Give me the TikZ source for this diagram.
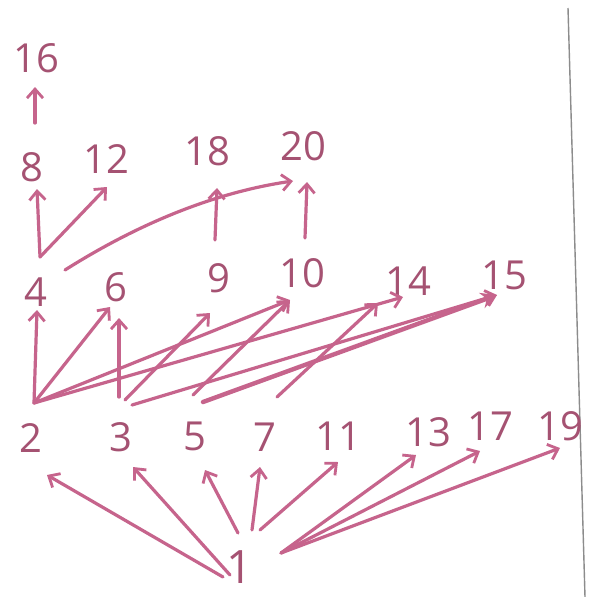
\documentclass[tikz,border=0pt]{standalone}
\usepackage{fontspec}
\setmainfont{Open Sans}
\usetikzlibrary{arrows.meta}
\definecolor{ink}{RGB}{165,82,114}
\definecolor{pen}{RGB}{198,100,140}
\definecolor{rulegray}{RGB}{140,140,140}
\begin{document}
\begin{tikzpicture}[x=1pt,y=-1pt,
  num/.style={text=ink,font=\fontsize{40}{40}\selectfont,inner sep=0pt},
  arr/.style={draw=pen,line width=3.2pt,line cap=round,
    -{Straight Barb[length=9pt,width=16pt,line width=2.8pt]}},
  bold/.style={line width=4.4pt,-{Stealth[length=16pt,width=16pt]}},
]
\fill[white] (0,0) rectangle (595,597);
\useasboundingbox (0,0) rectangle (595,597);

% page rule
\coordinate (r1) at (568,8);
\coordinate (r2) at (585,597);
\draw[rulegray,line width=1.4pt] (r1) -- (r2);

% numbers
\node[num] (n16) at (36,58) {16};
\node[num] (n8) at (32,167) {8};
\node[num] (n12) at (106,159) {12};
\node[num] (n18) at (207,151) {18};
\node[num] (n20) at (303,146) {20};
\node[num] (n4) at (36,292) {4};
\node[num] (n6) at (116,287) {6};
\node[num] (n9) at (219,278) {9};
\node[num] (n10) at (302,273) {10};
\node[num] (n14) at (408,281) {14};
\node[num] (n15) at (504,275) {15};
\node[num] (n2) at (31,438) {2};
\node[num] (n3) at (121,437) {3};
\node[num] (n5) at (195,436) {5};
\node[num] (n7) at (265,437) {7};
\node[num] (n11) at (338,436) {11};
\node[num] (n13) at (428,432) {13};
\node[num] (n17) at (490,426) {17};
\node[num] (n19) at (560,426) {19};
\node[num,font=\fontsize{46}{46}\selectfont] (n1) at (240,567) {1};

% junctions (tails) near nodes
\coordinate (j1a) at (223,577);
\coordinate (j1b) at (230,575);
\coordinate (j1c) at (238,533);
\coordinate (j1d) at (252,530);
\coordinate (j1e) at (260,530);
\coordinate (j1f) at (281,553);
\coordinate (j2) at (34,403);
\coordinate (j3a) at (119,397);
\coordinate (j3b) at (125,400);
\coordinate (j3c) at (132,405);
\coordinate (j5a) at (193,395);
\coordinate (j5b) at (203,402);
\coordinate (j7) at (277,397);
\coordinate (j4) at (40,257);
\coordinate (j4c) at (65,270);
\coordinate (j9) at (215,240);
\coordinate (j10) at (305,238);
\coordinate (j8) at (35,123);

% tips near nodes
\coordinate (b2) at (47,475);
\coordinate (b3) at (133,467);
\coordinate (b5) at (205,470);
\coordinate (b7) at (260,467);
\coordinate (b11) at (338,462);
\coordinate (b13) at (416,455);
\coordinate (b17) at (480,451);
\coordinate (b19) at (560,448);
\coordinate (b4) at (37,310);
\coordinate (b6a) at (110,307);
\coordinate (b6b) at (119,318);
\coordinate (b9) at (210,313);
\coordinate (b10) at (290,300);
\coordinate (b14a) at (403,297);
\coordinate (b14b) at (378,303);
\coordinate (b15) at (497,295);
\coordinate (b8) at (37,189);
\coordinate (b12) at (107,187);
\coordinate (b20a) at (293,181);
\coordinate (b18) at (217,188);
\coordinate (b20b) at (307,182);
\coordinate (b16) at (35,87);

% 1 -> primes
\draw[arr] (j1a) -- (b2);
\draw[arr] (j1b) -- (b3);
\draw[arr] (j1c) -- (b5);
\draw[arr] (j1d) -- (b7);
\draw[arr] (j1e) -- (b11);
\draw[arr] (j1f) -- (b13);
\draw[arr] (j1f) -- (b17);
\draw[arr] (j1f) -- (b19);

% primes -> second row
\draw[arr] (j2) -- (b4);
\draw[arr] (j2) -- (b6a);
\draw[arr] (j2) -- (b10);
\draw[arr] (j2) -- (b14a);
\draw[arr] (j3a) -- (b6b);
\draw[arr] (j3b) -- (b9);
\draw[arr] (j3c) -- (b15);
\draw[arr] (j5a) -- (b10);
\draw[arr,bold] (j5b) -- (b15);
\draw[arr] (j7) -- (b14b);

% upper rows
\draw[arr] (j4) -- (b8);
\draw[arr] (j4) -- (b12);
\draw[arr] (j4c) .. controls (141,222) and (217,192) .. (b20a);
\draw[arr] (j9) -- (b18);
\draw[arr] (j10) -- (b20b);
\draw[arr] (j8) -- (b16);
\end{tikzpicture}
\end{document}
